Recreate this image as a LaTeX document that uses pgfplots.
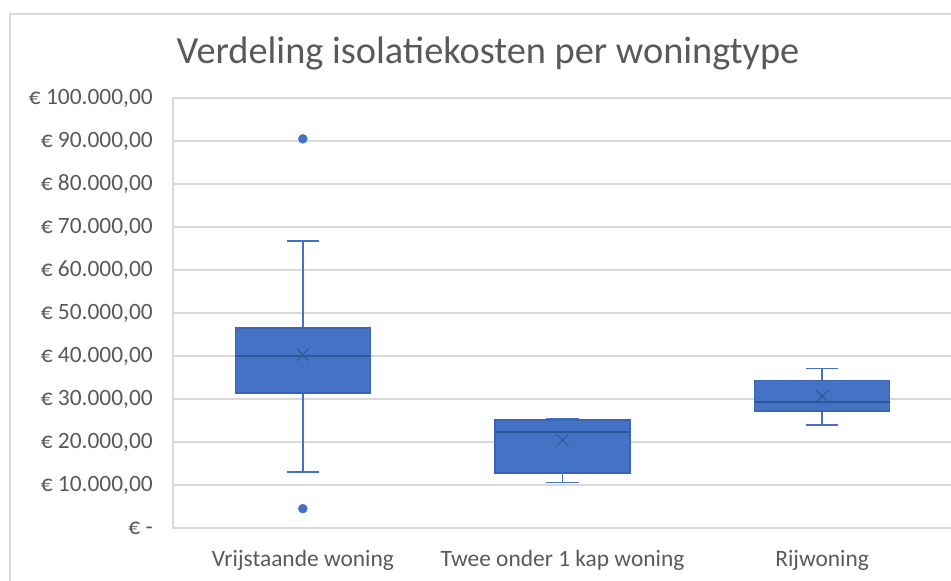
\documentclass[border=0pt]{standalone}
\usepackage{pgfplots}
\pgfplotsset{compat=1.18}
\usepackage{fontspec}
\setmainfont{Carlito}
\definecolor{boxfill}{HTML}{4472C4}
\definecolor{boxedge}{HTML}{3A65B4}
\definecolor{meddark}{HTML}{2F5597}
\definecolor{gridc}{HTML}{D9D9D9}
\definecolor{txt}{HTML}{595959}
\begin{document}
\begin{tikzpicture}
\useasboundingbox (0,0) rectangle (951bp,581bp);
\draw[gridc, line width=1.5bp] (10bp,0) -- (10bp,567bp) -- (951bp,567bp);
\node[txt, font=\fontsize{38.5}{46}\selectfont] at (488bp,528bp) {Verdeling isolatiekosten per woningtype};
% values in thousands of euro
\begin{axis}[
 at={(173bp,53bp)}, anchor=south west, scale only axis, width=779bp, height=430bp,
 xmin=-0.5, xmax=2.5, ymin=0, ymax=100,
 xtick={0,1,2}, xticklabels={Vrijstaande woning, Twee onder 1 kap woning, Rijwoning},
 ytick={0,10,20,30,40,50,60,70,80,90,100},
 yticklabels={{€ -},{€ 10.000,00},{€ 20.000,00},{€ 30.000,00},{€ 40.000,00},{€ 50.000,00},{€ 60.000,00},{€ 70.000,00},{€ 80.000,00},{€ 90.000,00},{€ 100.000,00}},
 scaled y ticks=false,
 ymajorgrids, grid style={gridc, line width=1.3bp},
 axis line style={gridc, line width=1.3bp},
 tick style={draw=none},
 tick label style={txt, font=\fontsize{23.5}{28}\selectfont, inner sep=0pt},
 yticklabel style={anchor=east, xshift=-20bp},
 xticklabel style={anchor=north, yshift=-22bp},
 clip=false,
 whisk/.style={draw=boxfill, line width=1.6bp},
]
% Vrijstaande woning: lw 13.0, q1 31.4, med 40.1, q3 46.5, uw 66.7
\addplot[whisk] coordinates {(0,46.5) (0,66.7)};
\addplot[whisk] coordinates {(0,31.4) (0,13.0)};
\addplot[whisk] coordinates {(-0.0625,66.7) (0.0625,66.7)};
\addplot[whisk] coordinates {(-0.0625,13.0) (0.0625,13.0)};
\addplot[fill=boxfill, draw=boxedge, line width=1.2bp] coordinates {(-0.26,31.4) (0.26,31.4) (0.26,46.5) (-0.26,46.5)} -- cycle;
\addplot[draw=meddark, line width=2bp] coordinates {(-0.26,40.1) (0.26,40.1)};
% Twee onder 1 kap woning: lw 10.6, q1 12.8, med 22.3, q3 25.1, uw 25.5
\addplot[whisk] coordinates {(1,25.1) (1,25.5)};
\addplot[whisk] coordinates {(1,12.8) (1,10.6)};
\addplot[whisk] coordinates {(0.9375,25.5) (1.0625,25.5)};
\addplot[whisk] coordinates {(0.9375,10.6) (1.0625,10.6)};
\addplot[fill=boxfill, draw=boxedge, line width=1.2bp] coordinates {(0.74,12.8) (1.26,12.8) (1.26,25.1) (0.74,25.1)} -- cycle;
\addplot[draw=meddark, line width=2bp] coordinates {(0.74,22.3) (1.26,22.3)};
% Rijwoning: lw 24.0, q1 27.2, med 29.3, q3 34.3, uw 37.1
\addplot[whisk] coordinates {(2,34.3) (2,37.1)};
\addplot[whisk] coordinates {(2,27.2) (2,24.0)};
\addplot[whisk] coordinates {(1.9375,37.1) (2.0625,37.1)};
\addplot[whisk] coordinates {(1.9375,24.0) (2.0625,24.0)};
\addplot[fill=boxfill, draw=boxedge, line width=1.2bp] coordinates {(1.74,27.2) (2.26,27.2) (2.26,34.3) (1.74,34.3)} -- cycle;
\addplot[draw=meddark, line width=2bp] coordinates {(1.74,29.3) (2.26,29.3)};
% outliers
\addplot[only marks, mark=*, mark size=4.5bp, mark options={fill=boxfill, draw=boxfill}]
 coordinates {(0,90.5) (0,4.5)};
% means
\addplot[only marks, mark=x, mark size=8.5bp, mark options={draw=meddark, line width=1bp}]
 coordinates {(0,40.3) (1,20.4) (2,30.6)};
\end{axis}
\end{tikzpicture}
\end{document}
